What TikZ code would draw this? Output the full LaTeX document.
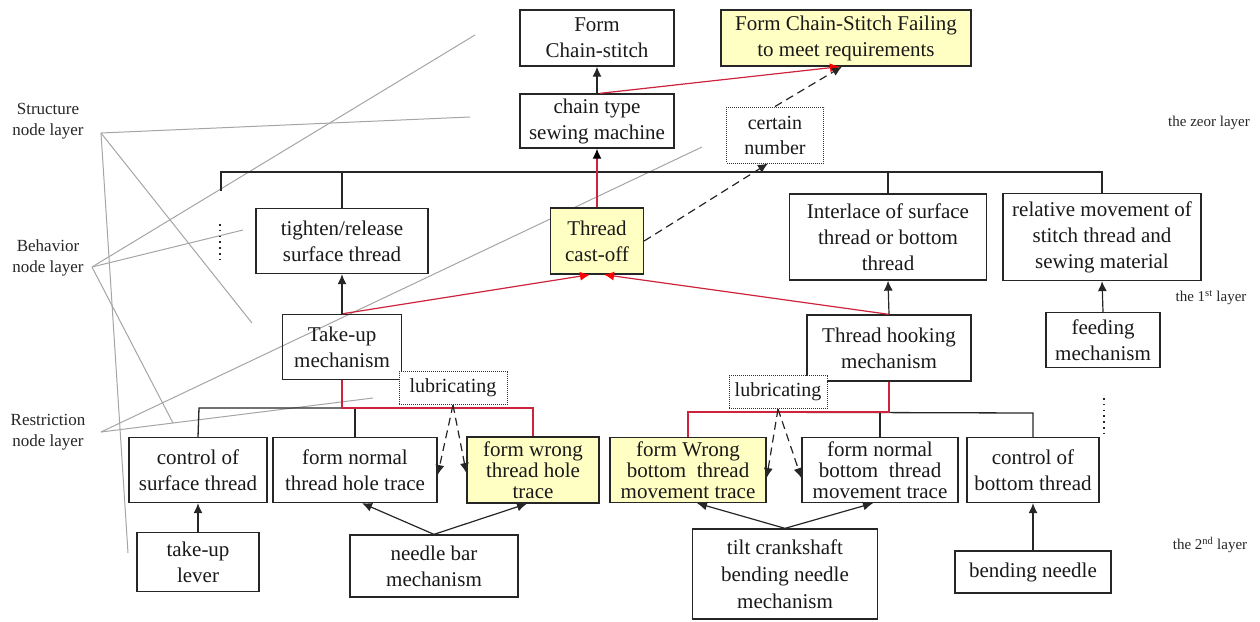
\documentclass[tikz,border=0pt]{standalone}
\usepackage{fontspec}
\setmainfont{Liberation Serif}
\usetikzlibrary{arrows.meta,calc}
\definecolor{boxyellow}{RGB}{255,255,196}
\definecolor{linkred}{RGB}{205,35,60}
\definecolor{guidegray}{RGB}{165,165,165}
\tikzset{
  box/.style={draw=black!85, line width=1.3pt, inner sep=0pt, align=center, text=black!90,
    font=\fontsize{21}{26}\selectfont},
  tight/.style={font=\fontsize{21}{21}\selectfont},
  hl/.style={fill=boxyellow},
  dotbox/.style={draw=black!80, densely dotted, line width=1pt, inner sep=0pt, align=center, text=black!90,
    font=\fontsize{20}{25}\selectfont},
  arr/.style={-{Latex[length=10pt,width=9pt]}, line width=1.2pt, black!85},
  redarr/.style={-{Latex[length=10pt,width=9pt,red]}, line width=1.2pt, linkred},
  redline/.style={line width=1.3pt, linkred},
  dasharr/.style={-{Latex[length=10pt,width=9pt]}, line width=1.2pt, dash pattern=on 8pt off 5pt, black!85},
  bus/.style={line width=1.3pt, black!85},
  guide/.style={line width=1pt, guidegray},
  lbl/.style={align=center, font=\fontsize{17}{21}\selectfont, text=black!85},
  rlbl/.style={font=\fontsize{15}{17}\selectfont, text=black!85},
  vdots/.style={line width=2.4pt, dash pattern=on 1.6pt off 4.2pt, black!85}
}
\begin{document}
\begin{tikzpicture}[x=1pt,y=-1pt]
\useasboundingbox (0,0) rectangle (1260,621);

% guide lines (drawn first, under boxes)
\coordinate (gS) at (101,133);
\coordinate (gB) at (92,267);
\coordinate (gR) at (101,432);
\coordinate (gS1) at (470,117);
\coordinate (gS2) at (128,553);
\coordinate (gS3) at (252,323);
\coordinate (gB1) at (475,35);
\coordinate (gB2) at (243,230);
\coordinate (gB3) at (173,423);
\coordinate (gR1) at (702,147);
\coordinate (gR2) at (373,398);
\draw[guide] (gS) -- (gS1);
\draw[guide] (gS) -- (gS2);
\draw[guide] (gS) -- (gS3);
\draw[guide] (gB) -- (gB1);
\draw[guide] (gB) -- (gB2);
\draw[guide] (gB) -- (gB3);
\draw[guide] (gR) -- (gR1);
\draw[guide] (gR) -- (gR2);

% labels
\node[lbl] (lS) at (48,121) {Structure\\node layer};
\node[lbl] (lB) at (48,258) {Behavior\\node layer};
\node[lbl] (lR) at (48,432) {Restriction\\node layer};
\node[rlbl] (r0) at (1209,123) {the zeor layer};
\node[rlbl] (r1) at (1211,298) {the 1\textsuperscript{st} layer};
\node[rlbl] (r2) at (1210,545) {the 2\textsuperscript{nd} layer};

% zero layer
\node[box, minimum width=154pt, minimum height=56pt] (f0) at (597,38) {Form\\Chain-stitch};
\node[box, hl, minimum width=250pt, minimum height=56pt] (fail) at (846,38) {Form Chain-Stitch Failing\\to meet requirements};
\node[box, minimum width=154pt, minimum height=54pt] (ctm) at (597,121) {chain type\\sewing machine};
\node[dotbox, fill=white, minimum width=97pt, minimum height=56pt] (cn) at (775,135) {certain\\number};

% first layer
\node[box, minimum width=172pt, minimum height=65pt] (tr) at (342,241) {tighten/release\\surface thread};
\node[box, hl, minimum width=93pt, minimum height=66pt] (tco) at (597,241) {Thread\\cast-off};
\node[box, minimum width=197pt, minimum height=86pt] (inter) at (888,237) {Interlace of surface\\thread or bottom\\thread};
\node[box, minimum width=198pt, minimum height=87pt] (rel) at (1102,237) {relative movement of\\stitch thread and\\sewing material};
\node[box, minimum width=119pt, minimum height=65pt] (tum) at (342,347) {Take-up\\mechanism};
\node[box, minimum width=164pt, minimum height=66pt] (thm) at (889,348) {Thread hooking\\mechanism};
\node[box, minimum width=114pt, minimum height=55pt] (feed) at (1103,340) {feeding\\mechanism};

% second layer
\node[dotbox, fill=white, minimum width=108pt, minimum height=33pt] (lubL) at (453,388) {lubricating};
\node[dotbox, fill=white, minimum width=98pt, minimum height=33pt] (lubR) at (778,392) {lubricating};
\node[box, minimum width=138pt, minimum height=65pt] (cst) at (198,470) {control of\\surface thread};
\node[box, minimum width=164pt, minimum height=65pt] (fnt) at (355,470) {form normal\\thread hole trace};
\node[box, hl, tight, minimum width=132pt, minimum height=66pt] (fwt) at (533,470) {form wrong\\thread hole\\trace};
\node[box, hl, tight, minimum width=156pt, minimum height=65pt] (fwb) at (688,470) {form Wrong\\bottom~~thread\\movement trace};
\node[box, tight, minimum width=156pt, minimum height=65pt] (fnb) at (880,470) {form normal\\bottom~~thread\\movement trace};
\node[box, minimum width=132pt, minimum height=65pt] (cbt) at (1033,470) {control of\\bottom thread};
\node[box, minimum width=122pt, minimum height=59pt] (tul) at (198,562) {take-up\\lever};
\node[box, minimum width=168pt, minimum height=62pt] (nbm) at (434,566) {needle bar\\mechanism};
\node[box, font=\fontsize{21}{27}\selectfont, minimum width=185pt, minimum height=90pt] (tcb) at (785,574) {tilt crankshaft\\bending needle\\mechanism};
\node[box, minimum width=156pt, minimum height=42pt] (bn) at (1033,572) {bending needle};

% top bus
\coordinate (bL) at (221,172);
\coordinate (bLs) at (221,191);
\coordinate (bR) at (1102,172);
\draw[bus] (bLs) -- (bL) -- (bR) -- (rel.north);
\draw[bus] (tr.north) -- (tr.north |- bL);
\draw[bus] (inter.north) -- (inter.north |- bL);

% restriction buses
\coordinate (lb1) at (199,408);
\coordinate (lb2) at (342,408);
\coordinate (lb3) at (533,408);
\draw[bus] (cst.north) -- (lb1) -- (lb3);
\draw[bus] (fnt.north) -- (fnt.north |- lb1);
\draw[redline] (tum.south) -- (lb2) -- (lb3) -- (fwt.north);

\coordinate (rb1) at (688,412);
\coordinate (rb2) at (889,412);
\coordinate (rb3) at (1033,413);
\draw[bus] (rb1) -- (rb3) -- (cbt.north);
\draw[bus] (fnb.north) -- (fnb.north |- rb2);
\draw[redline] (thm.south) -- (rb2) -- (rb1) -- (fwb.north);

% vertical dots
\coordinate (d1a) at (220,224);
\coordinate (d1b) at (220,264);
\coordinate (d2a) at (1104,398);
\coordinate (d2b) at (1104,438);
\draw[vdots] (d1a) -- (d1b);
\draw[vdots] (d2a) -- (d2b);

% arrows
\draw[arr] (ctm.north) -- (f0.south);
\draw[redarr] ([xshift=3pt]ctm.north) -- ([xshift=-6pt]fail.south);
\draw[dasharr] (cn.north) -- ([xshift=-4pt]fail.south);
\draw[dasharr] (tco.east) -- ([xshift=-7pt]cn.south);
\draw[redline, -{Latex[length=10pt,width=9pt,black]}] (tco.north) -- (ctm.south);
\draw[redarr] (tum.north) -- ([xshift=-7pt]tco.south);
\draw[redarr] (thm.north) -- ([xshift=7pt]tco.south);
\draw[arr] (tum.north) -- (tr.south);
\draw[arr] (thm.north) -- (inter.south);
\draw[arr] (feed.north) -- (rel.south);
\draw[arr] (tul.north) -- (cst.south);
\draw[arr] (bn.north) -- (cbt.south);
\draw[arr] (nbm.north) -- ([xshift=7pt]fnt.south);
\draw[arr] (nbm.north) -- ([xshift=-6pt]fwt.south);
\draw[arr] (tcb.north) -- ([xshift=9pt]fwb.south);
\draw[arr] (tcb.north) -- ([xshift=-7pt]fnb.south);
\draw[dasharr] (lubL.south) -- ([yshift=-5pt]fnt.east);
\draw[dasharr] (lubL.south) -- ([yshift=-3pt]fwt.west);
\draw[dasharr] (lubR.south) -- ([yshift=-8pt]fwb.east);
\draw[dasharr] (lubR.south) -- ([yshift=-8pt]fnb.west);
\end{tikzpicture}
\end{document}
